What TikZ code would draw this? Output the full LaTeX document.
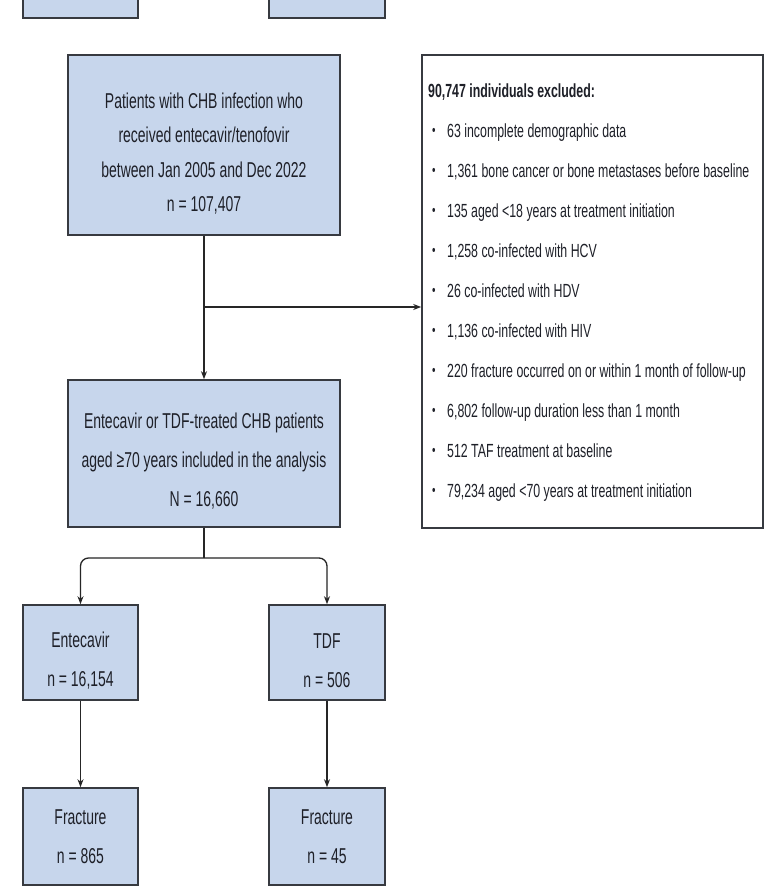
\documentclass[tikz,border=0pt]{standalone}
\usepackage{fontspec}
\setmainfont{Liberation Sans}[FakeStretch=0.65]
\usetikzlibrary{arrows.meta}
\definecolor{boxfill}{RGB}{199,214,236}
\definecolor{boxline}{RGB}{55,58,64}
\definecolor{txt}{RGB}{30,32,40}
\newcommand{\mybul}{\makebox[15pt][l]{\raisebox{1.5pt}{\scalebox{0.8}{•}}}}
\newcommand{\dn}[1]{\rule{0pt}{#1pt}}
\begin{document}
\begin{tikzpicture}[x=1pt,y=-1pt,
  flowbox/.style={draw=boxline, line width=1.6pt, fill=boxfill, text=txt, align=center, inner sep=0pt, font=\fontsize{21.5}{39}\selectfont},
  exclbox/.style={draw=boxline, line width=1.6pt, fill=white, inner sep=0pt},
  excltitle/.style={anchor=base west, inner sep=0pt, text=txt, font=\fontsize{19}{22}\selectfont\bfseries},
  excltext/.style={anchor=base west, inner sep=0pt, text=txt, font=\fontsize{19}{22}\selectfont},
  conn/.style={line width=1.3pt, draw=black!85},
  tip/.style={-{Stealth[length=8pt,width=6pt]}}]
\useasboundingbox (0,0) rectangle (765,888);
\clip (0,0) rectangle (765,888);
\fill[white] (0,0) rectangle (765,888);

\node[flowbox, minimum width=115, minimum height=48] (top1) at (80.5,-6) {};
\node[flowbox, minimum width=116, minimum height=48] (top2) at (327,-6) {};

\node[flowbox, minimum width=272, minimum height=180, font=\fontsize{21.5}{34.5}\selectfont] (main) at (204,145)
  {\dn{33}Patients with CHB infection who\\received entecavir/tenofovir\\between Jan 2005 and Dec 2022\\n = 107,407};

\node[exclbox, minimum width=341, minimum height=473] (excl) at (592.5,291.5) {};
\node[excltitle] (extitle) at (428,98) {90,747 individuals excluded:};
\foreach \t [count=\i from 0] in {
  {63 incomplete demographic data},
  {1,361 bone cancer or bone metastases before baseline},
  {135 aged <18 years at treatment initiation},
  {1,258 co-infected with HCV},
  {26 co-infected with HDV},
  {1,136 co-infected with HIV},
  {220 fracture occurred on or within 1 month of follow-up},
  {6,802 follow-up duration less than 1 month},
  {512 TAF treatment at baseline},
  {79,234 aged <70 years at treatment initiation}}
  \node[excltext] (ex\i) at (432,137+40*\i) {\mybul\t};

\node[flowbox, minimum width=272, minimum height=147] (incl) at (204,453.5)
  {\dn{30}Entecavir or TDF-treated CHB patients\\aged ≥70 years included in the analysis\\N = 16,660};

\node[flowbox, minimum width=115, minimum height=95] (ent) at (80.5,652.5) {\dn{31}Entecavir\\n = 16,154};
\node[flowbox, minimum width=116, minimum height=95] (tdf) at (327,652.5) {\dn{31}TDF\\n = 506};
\node[flowbox, minimum width=115, minimum height=97] (fracE) at (80.5,836.5) {Fracture\\n = 865};
\node[flowbox, minimum width=116, minimum height=97] (fracT) at (327,836.5) {Fracture\\n = 45};

\draw[conn,tip] (main.south) -- (incl.north);
\coordinate (j) at (204,307);
\draw[conn,tip] (j) -- (j -| excl.west);
\coordinate (k) at (204,558);
\draw[conn] (incl.south) -- (k);
\draw[conn,tip,rounded corners=8pt] (k) -| (ent.north);
\draw[conn,tip,rounded corners=8pt] (k) -| (tdf.north);
\draw[conn,tip] (ent.south) -- (fracE.north);
\draw[conn,tip] (tdf.south) -- (fracT.north);
\end{tikzpicture}
\end{document}
